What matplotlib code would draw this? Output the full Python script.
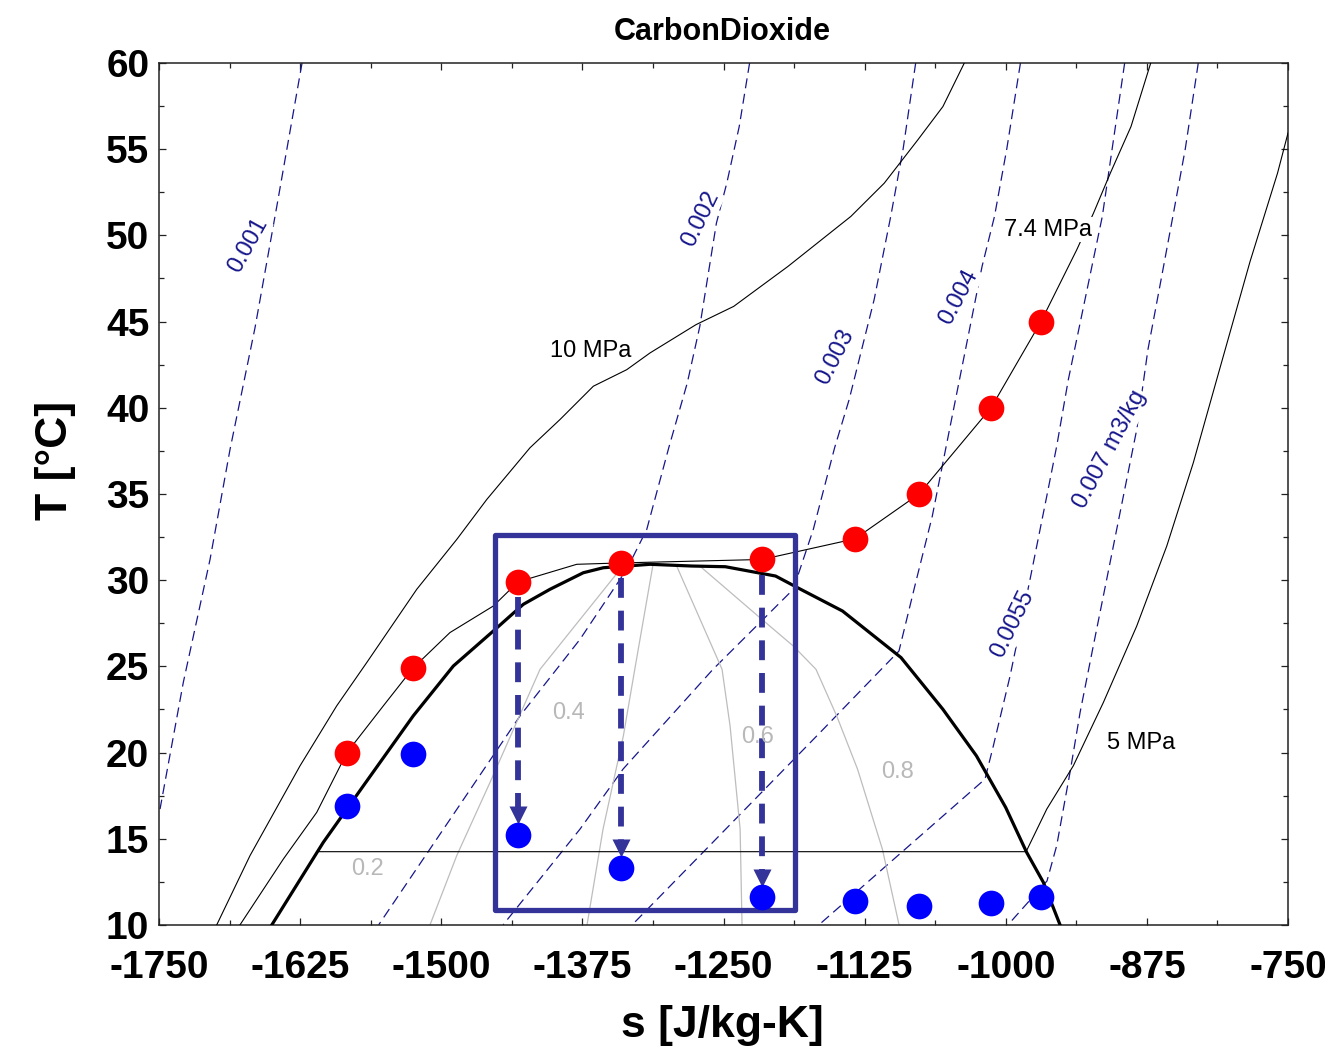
import numpy as np
import matplotlib
matplotlib.use('Agg')
import matplotlib.pyplot as plt
from matplotlib import font_manager
from matplotlib.patches import Rectangle
from matplotlib.ticker import MultipleLocator, FormatStrFormatter

# saturation dome
dome_s = [-1650.1, -1604.5, -1569.0, -1524.8, -1489.3, -1453.9, -1427.3, -1403.7, -1374.2, -1356.5,
          -1315.1, -1278.1, -1248.4, -1203.9, -1181.7, -1144.6, -1092.8, -1055.7, -1026.0, -1000.1,
          -981.5, -966.7, -951.9]
dome_T = [10.0, 14.79, 18.07, 22.13, 25.02, 27.05, 28.6, 29.47, 30.43, 30.72,
          30.92, 30.82, 30.78, 30.24, 29.47, 28.21, 25.51, 22.51, 19.81, 16.82,
          14.21, 12.47, 10.0]

# isobars
p10_s = [-1698.9, -1669.4, -1625.1, -1592.6, -1566.0, -1521.7, -1486.3, -1459.7, -1421.4, -1394.8,
         -1365.3, -1335.7, -1315.1, -1274.4, -1241.0, -1192.9, -1137.2, -1107.6, -1077.9, -1055.7, -1036.7]
p10_T = [10.0, 14.02, 19.23, 22.71, 25.22, 29.47, 32.36, 34.68, 37.68, 39.32,
         41.25, 42.21, 43.18, 44.82, 45.88, 48.2, 51.1, 53.03, 55.54, 57.47, 60.0]

p74_s = [-1678.3, -1639.9, -1610.3, -1583.5, -1551.3, -1525.0, -1492.3, -1453.9, -1432.0, -1380.0,
         -1340.8, -1215.9, -1133.5, -1076.8, -1013.0, -968.8, -937.1, -922.3, -907.4, -889.1, -871.6]
p74_T = [10.0, 13.82, 16.53, 20.0, 22.71, 24.9, 26.96, 28.5, 29.9, 30.92,
         31.0, 31.2, 32.4, 35.0, 40.0, 45.0, 49.17, 51.29, 53.61, 56.31, 60.0]

p5_s = [-1608.0, -982.0, -963.7, -940.2, -913.6, -884.0, -857.4, -833.9, -813.2, -783.7, -759.3, -750.0]
p5_T = [14.25, 14.25, 16.72, 19.23, 22.9, 27.34, 31.98, 36.81, 41.63, 48.47, 53.61, 55.94]

# specific volume lines [m3/kg]
v001_s = [-1623.3, -1645.7, -1665.0, -1687.1, -1704.8, -1728.5, -1749.1]
v001_T = [60.0, 51.67, 44.63, 37.58, 31.2, 24.06, 16.72]
v002_s = [-1226.9, -1236.1, -1247.1, -1256.3, -1271.0, -1282.1, -1298.5, -1318.0, -1335.7, -1377.1,
          -1430.2, -1555.5]
v002_T = [60.0, 56.31, 53.03, 50.71, 44.72, 41.44, 37.68, 32.94, 30.63, 26.57, 22.13, 10.0]
v003_s = [-1079.8, -1090.9, -1101.9, -1116.6, -1138.7, -1151.6, -1170.5, -1188.2, -1259.3, -1339.0,
          -1377.1, -1445.3]
v003_T = [60.0, 55.02, 51.1, 46.27, 40.48, 37.68, 32.94, 29.47, 24.83, 19.04, 15.56, 10.0]
v004_s = [-987.0, -999.1, -1010.0, -1021.0, -1035.7, -1050.4, -1065.1, -1079.8, -1094.6, -1164.5, -1331.0]
v004_T = [60.0, 55.02, 51.1, 48.2, 43.37, 38.55, 33.71, 29.86, 25.89, 21.16, 10.0]
v0055_s = [-894.7, -914.5, -944.6, -954.9, -963.7, -978.5, -996.2, -1011.0, -1018.4, -1165.6]
v0055_T = [60.0, 51.1, 41.63, 37.77, 34.87, 30.05, 24.44, 20.39, 18.46, 10.0]
v007_s = [-829.5, -841.0, -852.0, -863.0, -874.1, -884.0, -898.8, -910.6, -922.5, -934.2,
          -943.1, -954.9, -963.5, -998.1]
v007_T = [60.0, 55.02, 51.1, 47.24, 43.37, 38.74, 33.91, 30.05, 26.18, 22.32,
          18.85, 14.6, 12.55, 10.0]

# vapour quality lines
x02_s = [-1340.0, -1412.5, -1456.8, -1486.3, -1510.0]
x02_T = [30.75, 24.83, 18.27, 14.02, 10.0]
x04_s = [-1312.4, -1328.6, -1338.7, -1356.7, -1370.9]
x04_T = [30.92, 24.83, 20.97, 15.56, 10.0]
x06_s = [-1291.5, -1251.3, -1244.2, -1235.3, -1233.6]
x06_T = [30.82, 24.83, 21.55, 15.56, 10.0]
x08_s = [-1271.0, -1219.5, -1188.2, -1168.1, -1149.8, -1131.3, -1109.3, -1094.5]
x08_T = [30.82, 27.92, 26.18, 24.83, 22.13, 19.04, 14.4, 10.0]

# measured states
state_s = [-1583.5, -1525.0, -1432.0, -1340.8, -1215.9, -1133.5, -1076.8, -1013.0, -968.8]
hot_T = [20.0, 24.9, 29.9, 31.0, 31.2, 32.4, 35.0, 40.0, 45.0]
cold_T = [16.9, 19.9, 15.2, 13.3, 11.6, 11.4, 11.1, 11.3, 11.6]
arrow_idx = [2, 3, 4]

xticks = np.arange(-1750, -749, 125)
yticks = np.arange(10, 61, 5)

plt.rcParams['font.family'] = ['Liberation Sans', 'DejaVu Sans']
plt.rcParams['axes.unicode_minus'] = False

navy = '#16168c'
box_c = '#333399'
grey = '#bdbdbd'

fig = plt.figure(figsize=(13.25, 10.53), dpi=100)
ax = fig.add_axes([0.12, 0.1216, 0.8521, 0.8186])

dash = dict(color=navy, lw=0.9, dashes=(8, 4.5), zorder=2)
for s, t in [(v001_s, v001_T), (v002_s, v002_T), (v003_s, v003_T),
             (v004_s, v004_T), (v0055_s, v0055_T), (v007_s, v007_T)]:
    ax.plot(s, t, **dash)

for s, t in [(x02_s, x02_T), (x04_s, x04_T), (x06_s, x06_T), (x08_s, x08_T)]:
    ax.plot(s, t, color=grey, lw=0.9, zorder=2)

for s, t in [(p10_s, p10_T), (p74_s, p74_T), (p5_s, p5_T)]:
    ax.plot(s, t, color='black', lw=0.8, zorder=3)

ax.plot(dome_s, dome_T, color='black', lw=2.3, zorder=3)

# highlight box
ax.add_patch(Rectangle((-1452.4, 10.87), -1186.7 + 1452.4, 32.6 - 10.87, fill=False,
                       edgecolor=box_c, lw=3.8, joinstyle='round', zorder=4))

# dashed arrows from hot to cold state
for i in arrow_idx:
    s = state_s[i]
    ax.plot([s, s], [hot_T[i] - 0.9, cold_T[i] + 1.3], color=box_c, lw=4.2,
            dashes=(3.4, 2.2), zorder=5)
    ax.plot(s, cold_T[i] + 1.15, marker='v', ms=13, color=box_c, mec='none', zorder=5)

ax.plot(state_s, hot_T, 'o', color='#ff0000', ms=18.5, mec='none', zorder=6)
ax.plot(state_s, cold_T, 'o', color='#0000ff', ms=18.5, mec='none', zorder=6)

# line labels
lab = dict(fontsize=17, ha='center', va='center', zorder=7)
bb = dict(facecolor='white', edgecolor='none', pad=1)
ax.text(-1367.4, 43.31, '10 MPa', color='black', bbox=bb, **lab)
ax.text(-962.6, 50.32, '7.4 MPa', color='black', bbox=bb, **lab)
ax.text(-880.2, 20.54, '5 MPa', color='black', **lab)

for s, t, txt in [(-1564.9, 13.24, '0.2'), (-1387.7, 22.28, '0.4'),
                  (-1219.5, 20.89, '0.6'), (-1096.3, 18.86, '0.8')]:
    ax.text(s, t, txt, color='#b8b8b8', **lab)

for s, t, txt, rot in [(-1671.2, 49.4, '0.001', 61), (-1270.0, 50.96, '0.002', 64),
                       (-1151.2, 42.97, '0.003', 63), (-1041.4, 46.44, '0.004', 62),
                       (-993.6, 27.44, '0.0055', 64), (-907.7, 37.58, '0.007 m3/kg', 62)]:
    ax.text(s, t, txt, color=navy, rotation=rot, rotation_mode='anchor', bbox=bb, **lab)

ax.set_xlim(-1750, -750)
ax.set_ylim(10, 60)
ax.set_xticks(xticks)
ax.set_yticks(yticks)
ax.xaxis.set_minor_locator(MultipleLocator(62.5))
ax.yaxis.set_minor_locator(MultipleLocator(2.5))
ax.xaxis.set_major_formatter(FormatStrFormatter('%d'))
ax.yaxis.set_major_formatter(FormatStrFormatter('%d'))
ax.tick_params(which='both', direction='in', top=True, right=True, width=0.9, color='#222222')
ax.tick_params(which='major', length=5)
ax.tick_params(which='minor', length=3.5)
ax.tick_params(axis='x', which='major', pad=18)
ax.tick_params(axis='y', which='major', pad=7)
for lbl in ax.get_xticklabels() + ax.get_yticklabels():
    lbl.set_fontweight('bold')
    lbl.set_fontsize(28)
for sp in ax.spines.values():
    sp.set_linewidth(1.1)
    sp.set_color('#222222')

fig.text(722 / 1325, 1 - 32 / 1053, 'CarbonDioxide', ha='center', va='center',
         fontsize=22, fontweight='bold')
fig.text(722 / 1325, 1 - 1026 / 1053, 's [J/kg-K]', ha='center', va='center',
         fontsize=32, fontweight='bold')
fig.text(56 / 1325, 1 - 460 / 1053, 'T [°C]', ha='center', va='center', rotation=90,
         fontsize=32, fontweight='bold')

fig.savefig('out.png', dpi=100)
